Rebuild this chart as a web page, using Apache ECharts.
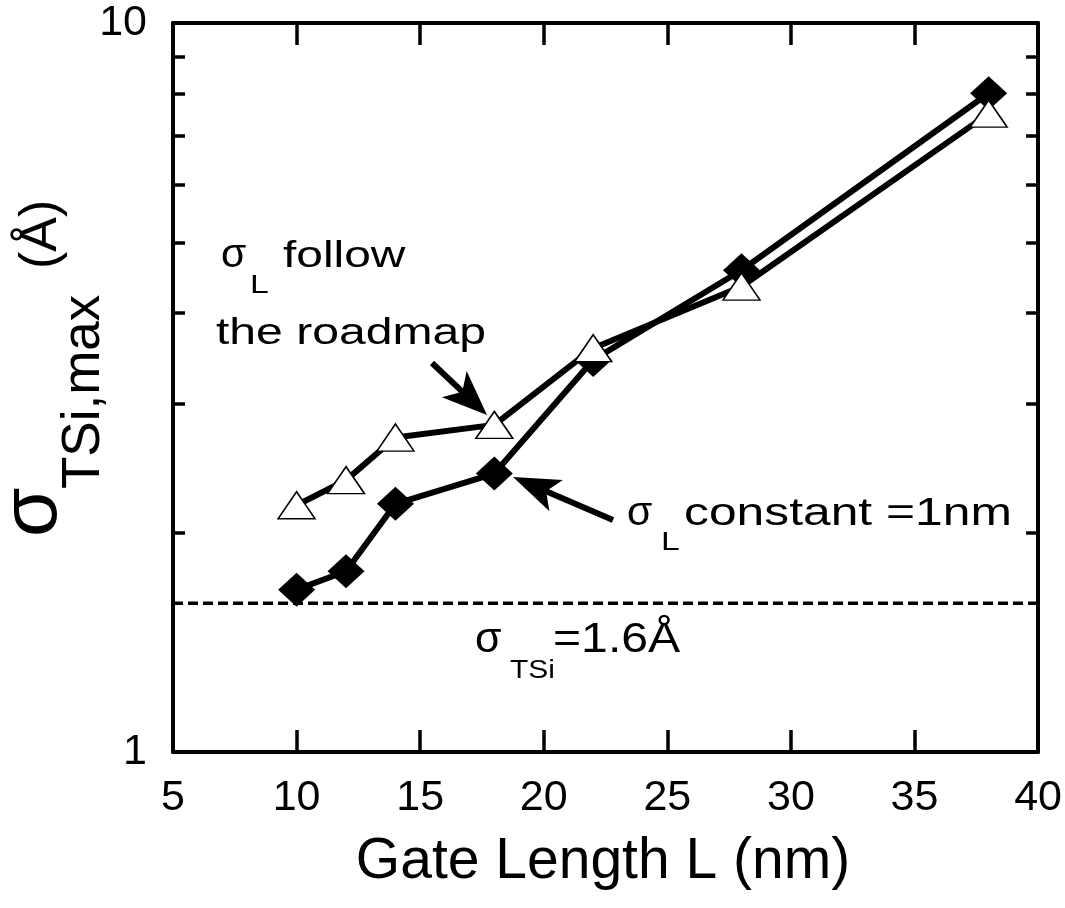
<!DOCTYPE html>
<html><head><meta charset="utf-8">
<script src="https://cdn.jsdelivr.net/npm/echarts@6/dist/echarts.min.js"></script>
<style>html,body{margin:0;padding:0;background:#fff}#c{width:1065px;height:908px}</style>
</head><body><div id="c"></div>
<script>
// ---- data ----
const gateLength = [10, 12, 14, 18, 22, 28, 38];
const sigmaConstant = [1.67, 1.77, 2.19, 2.41, 3.45, 4.58, 8.01];
const sigmaRoadmap = [2.18, 2.36, 2.70, 2.81, 3.58, 4.35, 7.51];
const sigmaTSiLimit = 1.6;
const xRange = [5, 40];
const xInterval = 5;
const yTickValues = [1, 2, 3, 4, 5, 6, 7, 8, 9, 10];
const yLabelValues = [1, 10];

const FONT = '"Liberation Sans", Arial, Helvetica, sans-serif';
const chart = echarts.init(document.getElementById('c'), null, {renderer: 'canvas'});

function T(text, x, y, size, o) {
  o = o || {};
  const al = o.align || 'left';
  return {
    type: 'text', x: x, y: y, rotation: o.rot || 0, scaleX: o.sx || 1, z: 100,
    style: { text: text, x: 0, y: 0, fontSize: size, fontFamily: FONT, fill: '#000',
      align: al, verticalAlign: 'middle', textAlign: al, textVerticalAlign: 'middle' }
  };
}
function arrow(tail, tip, headLen, headW, notch) {
  const dx = tip[0] - tail[0], dy = tip[1] - tail[1];
  const L = Math.hypot(dx, dy), ux = dx / L, uy = dy / L, px = -uy, py = ux;
  const bx = tip[0] - ux * headLen, by = tip[1] - uy * headLen;
  const nx = tip[0] - ux * (headLen - notch), ny = tip[1] - uy * (headLen - notch);
  return [
    {type: 'line', z: 100, shape: {x1: tail[0], y1: tail[1], x2: nx, y2: ny},
      style: {stroke: '#000', lineWidth: 6, lineCap: 'butt'}},
    {type: 'polygon', z: 100, shape: {points: [tip, [bx + px * headW / 2, by + py * headW / 2], [nx, ny], [bx - px * headW / 2, by - py * headW / 2]]},
      style: {fill: '#000'}}
  ];
}

const axisLine = {show: true, lineStyle: {color: '#000', width: 4}};
const xTick = {show: true, inside: true, length: 22, lineStyle: {color: '#000', width: 3.5}};
const yTick = {show: true, inside: true, length: 12, customValues: yTickValues, lineStyle: {color: '#000', width: 3.5}};

const option = {
  animation: false,
  backgroundColor: '#fff',
  grid: {left: 173, right: 22, top: 23, bottom: 156, containLabel: false},
  xAxis: [
    {type: 'value', min: xRange[0], max: xRange[1], interval: xInterval, position: 'bottom',
      axisLine: axisLine, axisTick: xTick, splitLine: {show: false},
      axisLabel: {fontSize: 43, color: '#000', fontFamily: FONT, margin: 25}},
    {type: 'value', min: xRange[0], max: xRange[1], interval: xInterval, position: 'top',
      axisLine: axisLine, axisTick: xTick, splitLine: {show: false}, axisLabel: {show: false}}
  ],
  yAxis: [
    {type: 'log', logBase: 10, min: 1, max: 10, position: 'left',
      axisLine: axisLine, axisTick: yTick, splitLine: {show: false}, minorTick: {show: false},
      axisLabel: {fontSize: 43, color: '#000', fontFamily: FONT, margin: 26, customValues: yLabelValues}},
    {type: 'log', logBase: 10, min: 1, max: 10, position: 'right',
      axisLine: axisLine, axisTick: yTick, splitLine: {show: false}, axisLabel: {show: false}}
  ],
  series: [
    {type: 'line', name: 'limit', data: [[xRange[0], sigmaTSiLimit], [xRange[1], sigmaTSiLimit]],
      symbol: 'none', silent: true, lineStyle: {color: '#000', width: 3.5, type: [10, 5]}},
    {type: 'line', name: 'constant', data: gateLength.map((x, i) => [x, sigmaConstant[i]]),
      symbol: 'diamond', symbolSize: [37, 34], showSymbol: true,
      lineStyle: {color: '#000', width: 6}, itemStyle: {color: '#000'}},
    {type: 'line', name: 'roadmap', data: gateLength.map((x, i) => [x, sigmaRoadmap[i]]),
      symbol: 'triangle', symbolSize: [37, 27], showSymbol: true,
      lineStyle: {color: '#000', width: 6}, itemStyle: {color: '#fff', borderColor: '#000', borderWidth: 1.5}}
  ],
  graphic: [
    // y-axis title (rotated)
    T('σ', 34, 537, 80, {rot: Math.PI / 2}),
    T('TSi,max', 84.5, 489, 53, {rot: Math.PI / 2}),
    T('(Å)', 42, 269, 52, {rot: Math.PI / 2}),
    // x-axis title
    T('Gate Length L (nm)', 603, 862, 57, {align: 'center'}),
    // annotation: roadmap
    T('σ', 221, 256, 41),
    T('L', 250, 286, 26, {sx: 1.3}),
    T('follow', 283, 257.4, 36, {sx: 1.33}),
    T('the roadmap', 216, 334, 37, {sx: 1.3}),
    // annotation: constant
    T('σ', 627, 514, 41),
    T('L', 661, 543, 26, {sx: 1.3}),
    T('constant =1nm', 684, 514.7, 38, {sx: 1.31}),
    // annotation: limit
    T('σ', 475, 640, 43),
    T('TSi', 510, 671, 26, {sx: 1.15}),
    T('=1.6Å', 553, 640, 43, {sx: 1.12})
  ].concat(arrow([432, 363], [487, 415], 45, 36, 11))
   .concat(arrow([613, 520], [513, 477], 47, 34, 11))
};
chart.setOption(option);
</script></body></html>
